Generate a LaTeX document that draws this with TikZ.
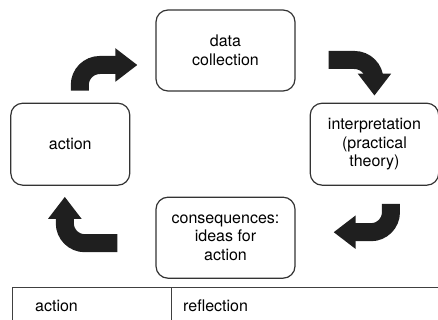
\documentclass[tikz,border=0pt]{standalone}
\usepackage{fontspec}
\setmainfont{TeX Gyre Heros}
\usetikzlibrary{positioning, arrows.meta}

\begin{document}
\begin{tikzpicture}[x=1pt, y=1pt, node distance=11pt and 14pt,
  stage/.style={draw=black!80, line width=1.2pt, rounded corners=12pt, align=center,
    inner sep=0pt, font=\fontsize{16}{18.5}\selectfont},
  turn/.style={draw=black!88, line width=18pt, rounded corners=20pt,
    -{Triangle[length=22pt 0 0, width=32pt 0 0]}},
  cell/.style={anchor=west, inner sep=0pt, font=\fontsize{16}{18.5}\selectfont}]
\useasboundingbox (0,0) rectangle (438,-320);

% Stages
\node[stage, minimum width=139pt, minimum height=81pt] (dc) at (225.5,-50.5) {data\\collection};
\node[stage, minimum width=128.5pt, minimum height=82pt, below right=of dc] (interp) {interpretation\\(practical\\theory)};
\node[stage, minimum width=119pt, minimum height=82pt, below left=11pt and 25pt of dc] (act) {action};
\node[stage, minimum width=139pt, minimum height=81pt, below=105pt of dc] (cons) {consequences:\\ideas for\\action};

% Turning arrows
\draw[turn] ([xshift=9.5pt, yshift=12pt]act.north) |- ([xshift=-18pt, yshift=-14.5pt]dc.west);
\draw[turn] ([xshift=33pt, yshift=-9.5pt]dc.east) -| ([yshift=7pt]interp.north);
\draw[turn] ([xshift=16.5pt, yshift=-18pt]interp.south) |- ([xshift=38pt, yshift=5.5pt]cons.east);
\draw[turn] ([xshift=-38pt, yshift=-5.5pt]cons.west) -| ([xshift=-5.5pt, yshift=-11pt]act.south);

% Table
\coordinate (tl) at (12,-287);
\coordinate (tm) at (171,-287);
\draw[black!75, line width=1pt] (tl |- 0,-320) -- (tl) -- (438,-287);
\draw[black!75, line width=1pt] (tm) -- (tm |- 0,-320);
\node[cell] (tact) at (35,-306) {action};
\node[cell] (trefl) at (183,-306) {reflection};
\end{tikzpicture}
\end{document}
